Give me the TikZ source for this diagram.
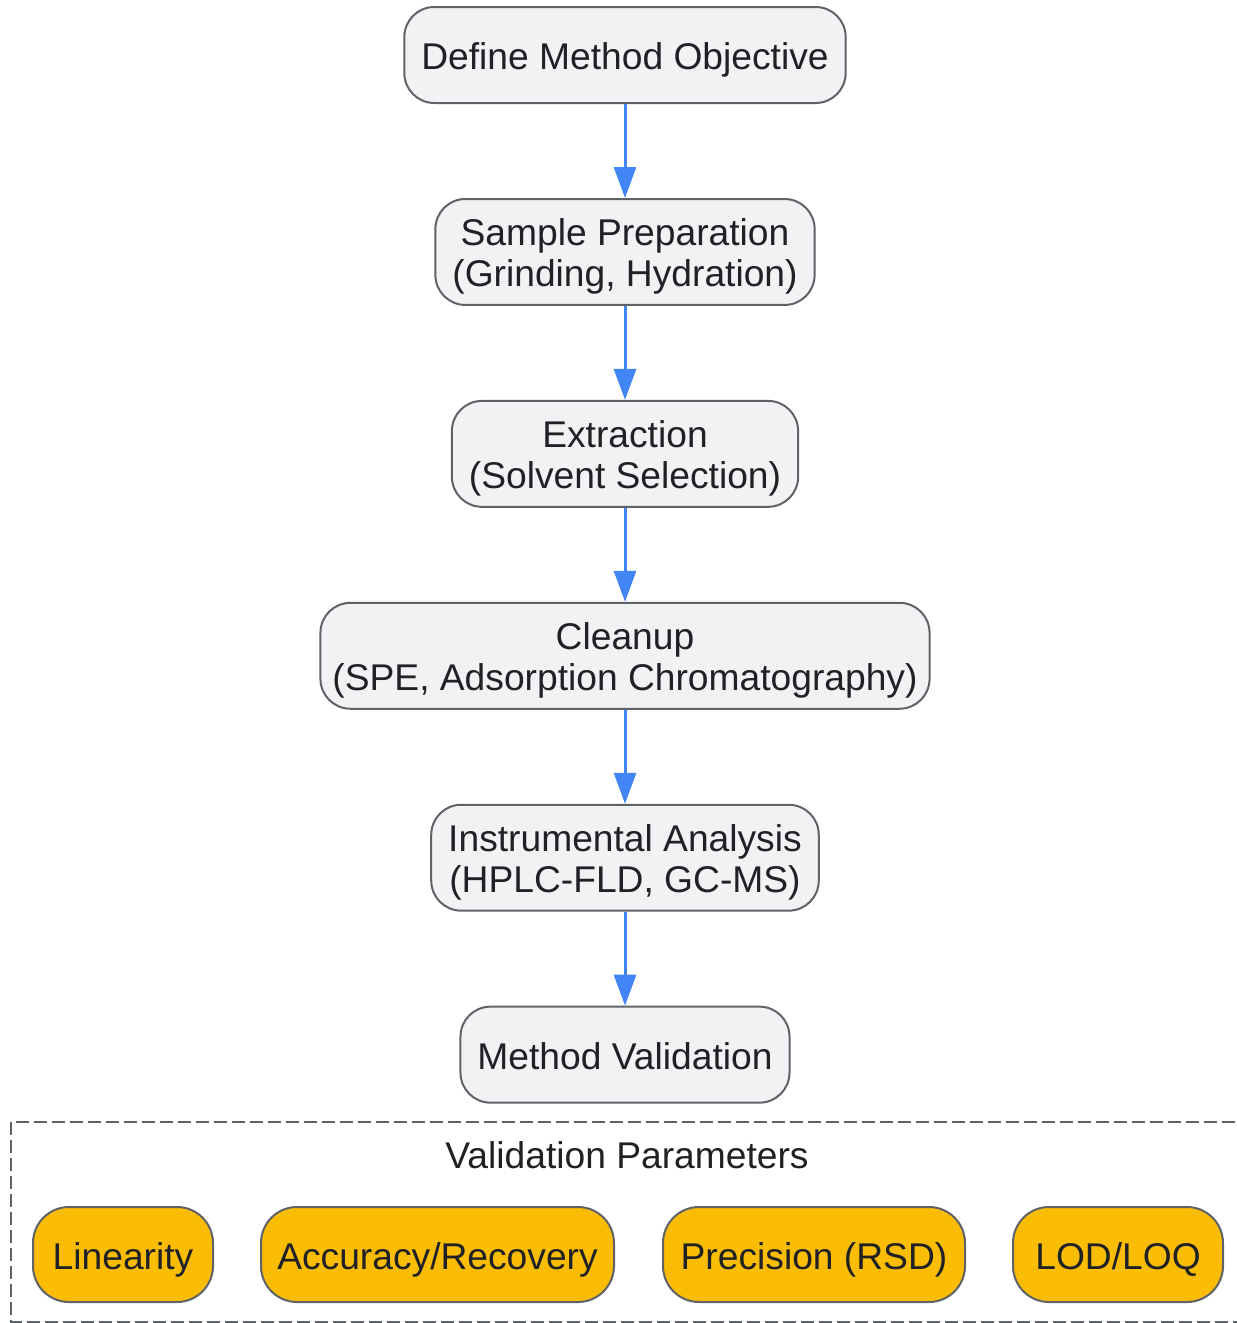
\documentclass[tikz,border=0pt]{standalone}
\usepackage{fontspec}
\setmainfont{Liberation Sans}
\usetikzlibrary{positioning,arrows.meta}
\definecolor{boxfill}{HTML}{F1F2F4}
\definecolor{boxline}{HTML}{5F6368}
\definecolor{arrowblue}{HTML}{4285F4}
\definecolor{paramyellow}{HTML}{FBBC04}
\definecolor{textdark}{HTML}{202124}

\begin{document}
\begin{tikzpicture}[
x = 0.5pt, y = -0.5pt,
node distance = 47pt,
every node/.style = {font=\fontsize{18.6}{20.5}\selectfont, text=textdark},
procbox/.style = {draw=boxline, line width=1pt, fill=boxfill, rounded corners=15pt,
	align=center, inner xsep=8.5pt, inner ysep=5.25pt, minimum height=48pt},
singlebox/.style = {procbox, text height=18.6pt, text depth=3.7pt},
doublebox/.style = {procbox, text height=38.6pt},
parambox/.style = {singlebox, fill=paramyellow, rounded corners=18pt, inner xsep=7pt, minimum height=47.5pt},
flow/.style = {draw=arrowblue, line width=1.5pt, -{Triangle[length=15.5pt,width=11pt]}}
]
\useasboundingbox (0,0) rectangle (1237,1323);

\node[singlebox] (objective) at (625,55) {Define Method Objective};
\node[doublebox, below=of objective] (prep) {Sample Preparation\\(Grinding, Hydration)};
\node[doublebox, below=of prep] (extraction) {Extraction\\(Solvent Selection)};
\node[doublebox, inner xsep=6pt, below=of extraction] (cleanup) {Cleanup\\(SPE, Adsorption Chromatography)};
\node[doublebox, below=of cleanup] (analysis) {Instrumental Analysis\\(HPLC-FLD, GC-MS)};
\node[singlebox, below=of analysis] (validation) {Method Validation};

% validation parameters group
\draw[boxline, line width=1pt, dash pattern=on 6.5pt off 2.5pt] (11,1122) rectangle (1260,1322);
\node (paramlabel) at (627,1155) {Validation Parameters};
\node[parambox, minimum width=90pt] (linearity) at (123,1254.5) {Linearity};
\node[parambox, minimum width=176.5pt, right=23pt of linearity] (accuracy) {Accuracy/Recovery};
\node[parambox, minimum width=151pt, right=23.5pt of accuracy] (precision) {Precision (RSD)};
\node[parambox, minimum width=105pt, right=23pt of precision] (lodloq) {LOD/LOQ};

\draw[flow] (objective) -- (prep);
\draw[flow] (prep) -- (extraction);
\draw[flow] (extraction) -- (cleanup);
\draw[flow] (cleanup) -- (analysis);
\draw[flow] (analysis) -- (validation);
\end{tikzpicture}
\end{document}
